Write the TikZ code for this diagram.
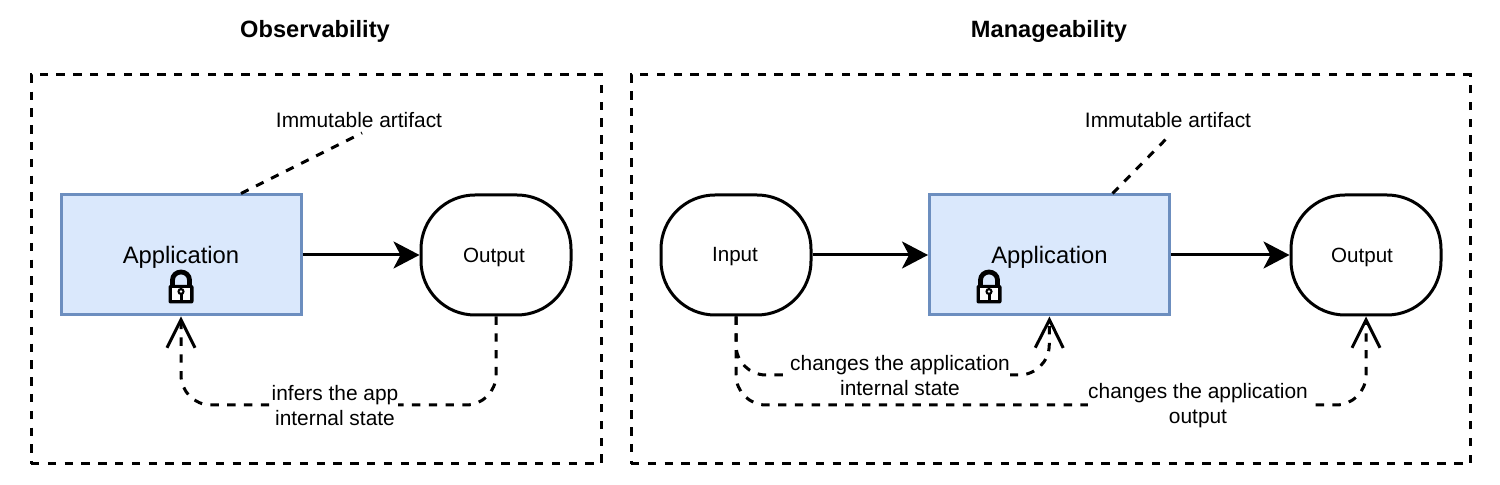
\documentclass[tikz,border=0pt]{standalone}
\usepackage{fontspec}
\setmainfont{Liberation Sans}
\usetikzlibrary{arrows.meta,calc}
\definecolor{appfill}{HTML}{DAE8FC}
\definecolor{appline}{HTML}{6C8EBF}
\newcommand\nudgedown[2]{\raisebox{-#1}[\height][\depth]{#2}}
\tikzset{
  frame/.style={draw=black,line width=1.5pt,dash pattern=on 4.2pt off 4.2pt,minimum width=#1,minimum height=194.5pt,inner sep=0pt},
  appbox/.style={draw=appline,fill=appfill,line width=1.5pt,minimum width=120pt,minimum height=60pt,inner sep=0pt,font=\fontsize{11.9}{14}\selectfont},
  ioshape/.style={draw=black,line width=1.5pt,rounded corners=27pt,minimum width=75pt,minimum height=60pt,inner sep=0pt,font=\fontsize{10.3}{13}\selectfont},
  titletext/.style={font=\fontsize{11.8}{15}\selectfont\bfseries,inner sep=0pt},
  labeltext/.style={font=\fontsize{10.45}{12.3}\selectfont,align=center,inner sep=0pt,fill=white},
  plaintext/.style={font=\fontsize{10.45}{12}\selectfont,align=center,inner sep=0pt},
  solidflow/.style={draw=black,line width=1.5pt,-{Stealth[length=13pt,width=13.5pt,inset=3.5pt]}},
  dashflow/.style={draw=black,line width=1.5pt,dash pattern=on 4.2pt off 4.2pt,rounded corners=15pt,-{Straight Barb[length=14pt,width=14pt,line width=1.5pt]}},
  dashlink/.style={draw=black,line width=1.5pt,dash pattern=on 4.2pt off 4.2pt},
  pics/lockicon/.style={code={
    \draw[black,line width=2.4pt] (-8.5,4) -- (-8.5,-5) arc[start angle=180,end angle=0,x radius=8.5,y radius=-8] -- (8.5,4);
    \fill[black,rounded corners=1pt] (-12.5,0) rectangle (12.5,18.5);
    \fill[white] (-9,3) rectangle (9,15);
    \fill[black] (0,6.5) circle[radius=3.6];
    \fill[black] (-1.5,6.5) rectangle (1.5,15);
    \fill[white] (0,6.5) circle[radius=1.3];
  }}
}
\begin{document}
\begin{tikzpicture}[x=0.5pt,y=-0.5pt]
\useasboundingbox (0,0) rectangle (1500,485);
\node[titletext] (t1) at (315,31) {Observability};
\node[titletext] (t2) at (1049,31) {Manageability};
\node[frame=285pt] (f1) at (316,269.5) {};
\node[frame=419.5pt] (f2) at (1050.5,269.5) {};

\node[appbox] (app1) at (181,255) {\nudgedown{1pt}{Application}};
\node[ioshape] (out1) at (496,255) {\nudgedown{1pt}{\hspace*{-2pt}Output}};
\draw[solidflow] (app1) -- (out1);
\pic at (181,285) {lockicon};
\node[plaintext] (imm1) at (359,120.5) {Immutable artifact};
\coordinate (end1) at (362,133);
\draw[dashlink] ($(app1.north)+(60,0)$) -- (end1);
\draw[dashflow] (out1.south) |- (181,405) -- (app1.south);
\node[labeltext] (lab1) at (335,405.5) {infers the app\\internal state};

\node[ioshape] (in2) at (736,255) {\nudgedown{1pt}{\hspace*{-1pt}Input}};
\node[appbox] (app2) at (1049.5,255) {\nudgedown{1pt}{Application}};
\node[ioshape] (out2) at (1366,255) {\nudgedown{1pt}{\hspace*{-4pt}Output}};
\draw[solidflow] (in2) -- (app2);
\draw[solidflow] (app2) -- (out2);
\pic at (989,285) {lockicon};
\node[plaintext] (imm2) at (1168,120.5) {Immutable artifact};
\coordinate (end2) at (1170,135);
\draw[dashlink] ($(app2.north)+(63,0)$) -- (end2);
\draw[dashflow] (in2.south) |- (1049,375) -- (app2.south);
\draw[dashflow] (in2.south) |- (1366,405) -- (out2.south);
\node[labeltext] (lab2) at (900,375.5) {changes the application\\internal state};
\node[labeltext] (lab3) at (1198,405.5) {changes the application\\output};
\end{tikzpicture}
\end{document}
